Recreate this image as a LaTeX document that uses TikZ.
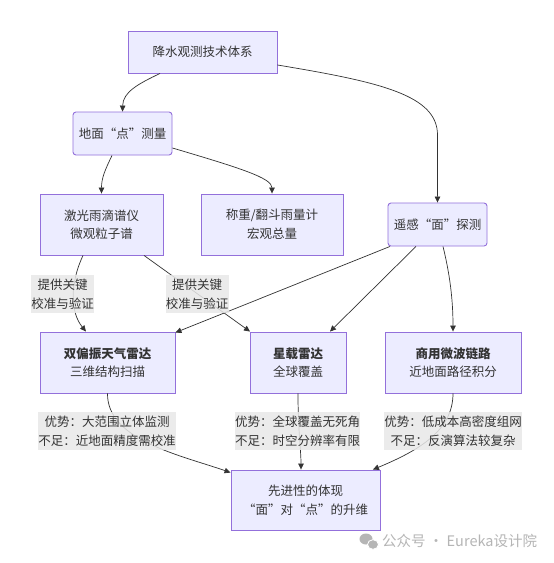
\documentclass[tikz,border=0pt]{standalone}
\usepackage{fontspec}
\setmainfont{Noto Sans CJK SC}
\usetikzlibrary{arrows.meta}
\definecolor{nodefill}{HTML}{ECECFF}
\definecolor{nodeborder}{HTML}{9370DB}
\definecolor{edgecol}{HTML}{333333}
\definecolor{lblfill}{HTML}{E8E8E8}
\definecolor{wmgray}{HTML}{B5B5B5}
\begin{document}
\begin{tikzpicture}[x=1pt,y=-1pt,
 box/.style={draw=nodeborder, fill=nodefill, line width=0.9pt, text=edgecol, align=center, inner sep=0pt, font=\fontsize{12.5pt}{18.5pt}\selectfont},
 rbox/.style={box, rounded corners=3pt},
 lbl/.style={fill=lblfill, fill opacity=0.85, text opacity=1, text=edgecol, align=center, inner sep=0pt, font=\fontsize{12.5pt}{19pt}\selectfont},
 edge/.style={draw=edgecol, line width=0.7pt, -{Triangle[length=6pt,width=5.5pt]}},
]
\fill[white] (0,0) rectangle (554,563);
\useasboundingbox (0,0) rectangle (554,563);

% nodes
\node[box, minimum width=149pt, minimum height=42pt] (top) at (202.5,52) {降水观测技术体系};
\node[rbox, minimum width=99pt, minimum height=43pt] (ground) at (122.5,133.5) {地面“点”测量};
\node[box, minimum width=123pt, minimum height=61pt] (laser) at (101.5,224.5) {激光雨滴谱仪\\微观粒子谱};
\node[box, minimum width=142pt, minimum height=61pt] (gauge) at (272,224.5) {称重/翻斗雨量计\\宏观总量};
\node[rbox, minimum width=99pt, minimum height=43pt] (remote) at (437.5,224.5) {遥感“面”探测};
\node[box, minimum width=135pt, minimum height=61pt] (radar) at (107.5,362.5) {\textbf{双偏振天气雷达}\\三维结构扫描};
\node[box, minimum width=96pt, minimum height=61pt] (sat) at (298,362.5) {\textbf{星载雷达}\\全球覆盖};
\node[box, minimum width=136pt, minimum height=61pt] (mw) at (453,362.5) {\textbf{商用微波链路}\\近地面路径积分};
\node[box, minimum width=149pt, minimum height=60pt] (final) at (305.5,500) {先进性的体现\\“面”对“点”的升维};

% edges
\draw[edge] ([xshift=-42.5pt]top.south) .. controls (138,84) and (123,92) .. (ground.north);
\draw[edge] ([xshift=-10.5pt]ground.south) .. controls (105,170) and (101.5,178) .. (laser.north);
\draw[edge] ([yshift=-14.5pt]ground.east) .. controls (240,168) and (272,178) .. (gauge.north);
\draw[edge] ([yshift=-13pt]top.east) .. controls (380,82) and (437.5,95) .. (437.5,135) -- (remote.north);
\draw[edge] ([xshift=-18.5pt]laser.south) .. controls (70,283) and (70,312) .. ([xshift=-21.5pt]radar.north);
\draw[edge] ([xshift=42.5pt]laser.south) -- ([xshift=-48pt]sat.north);
\draw[edge] ([xshift=-47.5pt]remote.south) -- ([yshift=-1pt]radar.north east);
\draw[edge] ([xshift=-21.5pt]remote.south) -- ([xshift=32pt]sat.north);
\draw[edge] ([xshift=5.5pt]remote.south) .. controls (450,275) and (453,300) .. (mw.north);
\draw[edge] (radar.south) .. controls (107,440) and (180,455) .. ([yshift=-3pt]final.north west);
\draw[edge] (sat.south) .. controls (298,430) and (301,450) .. ([xshift=-4.5pt]final.north);
\draw[edge] (mw.south) .. controls (453,430) and (420,450) .. ([xshift=-7.5pt]final.north east);

% edge labels
\node[lbl, minimum width=63pt, minimum height=38pt] (l1) at (62.5,294) {提供关键\\校准与验证};
\node[lbl, minimum width=63pt, minimum height=38pt] (l2) at (197,294) {提供关键\\校准与验证};
\node[lbl, minimum width=138pt, minimum height=38pt] (l3) at (107,431) {优势：大范围立体监测\\不足：近地面精度需校准};
\node[lbl, minimum width=125pt, minimum height=38pt] (l4) at (297.5,431) {优势：全球覆盖无死角\\不足：时空分辨率有限};
\node[lbl, minimum width=138pt, minimum height=38pt] (l5) at (453,431) {优势：低成本高密度组网\\不足：反演算法较复杂};

% watermark
\fill[wmgray] (366,539) ellipse (6.5pt and 5.5pt);
\fill[wmgray, draw=white, line width=0.8pt] (373,544.5) ellipse (5.5pt and 4.8pt);
\node[text=wmgray, font=\fontsize{14.5pt}{16pt}\selectfont, anchor=west, inner sep=0pt] (wm) at (382,541) {公众号 · Eureka设计院};
\end{tikzpicture}
\end{document}
